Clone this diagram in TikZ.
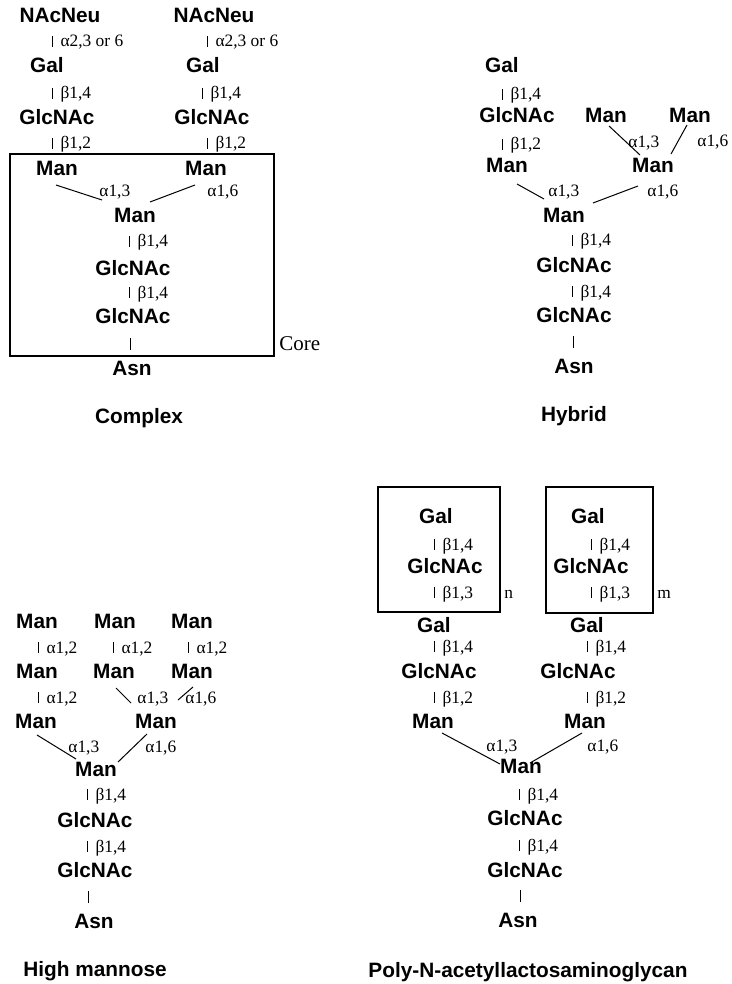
\documentclass[tikz,border=0pt]{standalone}
\usepackage{fontspec}
\setmainfont{Liberation Serif}
\newfontfamily\sugarfont{Liberation Sans}
\usetikzlibrary{fit}
\tikzset{
  sugar/.style={font=\sugarfont\bfseries\fontsize{10.4}{12}\selectfont, inner sep=0pt, anchor=base},
  link/.style={font=\fontsize{8.7}{10}\selectfont, inner sep=0pt, anchor=base west},
  bond/.style={line width=0.5pt},
  frame/.style={draw, line width=0.6pt, inner sep=0pt},
}
% short vertical bond stroke set in front of a linkage label
\newcommand{\bondbar}{\rule{0.45pt}{5.4pt}\hspace{3.6pt}}
\newcommand{\stembar}{\rule{0.45pt}{6pt}}

\begin{document}
\begin{tikzpicture}[x=0.5pt,y=-0.5pt]
\useasboundingbox (0,0) rectangle (732,984);

% ---------------- Complex ----------------
\node[sugar] (c-neu1) at (60,23) {NAcNeu};
\node[sugar] (c-neu2) at (214,23) {NAcNeu};
\node[link]  (c-l1a) at (52,47)  {\bondbar α2,3 or 6};
\node[link]  (c-l1b) at (207,47) {\bondbar α2,3 or 6};
\node[sugar] (c-gal1) at (47,73)  {Gal};
\node[sugar] (c-gal2) at (203,73) {Gal};
\node[link]  (c-l2a) at (52,99)  {\bondbar β1,4};
\node[link]  (c-l2b) at (202,99) {\bondbar β1,4};
\node[sugar] (c-gn1) at (57,125)  {GlcNAc};
\node[sugar] (c-gn2) at (212,125) {GlcNAc};
\node[link]  (c-l3a) at (52,149)  {\bondbar β1,2};
\node[link]  (c-l3b) at (207,149) {\bondbar β1,2};
\node[frame, fit={(10,154) (274,356)}] (c-core) {};
\node[sugar] (c-man1) at (57,176)  {Man};
\node[sugar] (c-man2) at (206,176) {Man};
\coordinate (c-a1) at (56,185);  \coordinate (c-a2) at (102,200);
\coordinate (c-b1) at (195,185); \coordinate (c-b2) at (150,202);
\draw[bond] (c-a1) -- (c-a2);
\draw[bond] (c-b1) -- (c-b2);
\node[link]  (c-l4a) at (99,197)  {α1,3};
\node[link]  (c-l4b) at (207,197) {α1,6};
\node[sugar] (c-man3) at (135,223) {Man};
\node[link]  (c-l5) at (129,247) {\bondbar β1,4};
\node[sugar] (c-gn3) at (133,275) {GlcNAc};
\node[link]  (c-l6) at (129,298) {\bondbar β1,4};
\node[sugar] (c-gn4) at (133,323) {GlcNAc};
\node[link]  (c-l7) at (129,350) {\stembar};
\node[link, font=\fontsize{10.5}{12}\selectfont] (c-corelabel) at (279,350) {Core};
\node[sugar] (c-asn) at (132,375) {Asn};
\node[sugar] (c-title) at (139,423) {Complex};

% ---------------- Hybrid ----------------
\node[sugar] (h-gal) at (502,73) {Gal};
\node[link]  (h-l1) at (502,100) {\bondbar β1,4};
\node[sugar] (h-gn1) at (517,123) {GlcNAc};
\node[link]  (h-l2) at (502,150) {\bondbar β1,2};
\node[sugar] (h-man1) at (507,173) {Man};
\node[sugar] (h-man2) at (606,123) {Man};
\node[sugar] (h-man3) at (690,123) {Man};
\coordinate (h-a1) at (609,126); \coordinate (h-a2) at (640,155);
\coordinate (h-b1) at (687,125); \coordinate (h-b2) at (671,154);
\draw[bond] (h-a1) -- (h-a2);
\draw[bond] (h-b1) -- (h-b2);
\node[link]  (h-l3) at (628,148) {α1,3};
\node[link]  (h-l4) at (697,147) {α1,6};
\node[sugar] (h-man4) at (653,173) {Man};
\coordinate (h-c1) at (517,184); \coordinate (h-c2) at (544,199);
\coordinate (h-d1) at (638,186); \coordinate (h-d2) at (593,203);
\draw[bond] (h-c1) -- (h-c2);
\draw[bond] (h-d1) -- (h-d2);
\node[link]  (h-l5) at (548,197) {α1,3};
\node[link]  (h-l6) at (647,197) {α1,6};
\node[sugar] (h-man5) at (564,222) {Man};
\node[link]  (h-l7) at (572,246) {\bondbar β1,4};
\node[sugar] (h-gn2) at (574,272) {GlcNAc};
\node[link]  (h-l8) at (572,297) {\bondbar β1,4};
\node[sugar] (h-gn3) at (574,322) {GlcNAc};
\node[link]  (h-l9) at (572,348) {\stembar};
\node[sugar] (h-asn) at (574,373) {Asn};
\node[sugar] (h-title) at (574,421) {Hybrid};

% ---------------- High mannose ----------------
\node[sugar] (m-r1a) at (37,628)  {Man};
\node[sugar] (m-r1b) at (115,628) {Man};
\node[sugar] (m-r1c) at (192,628) {Man};
\node[link]  (m-l1a) at (38,653)  {\bondbar α1,2};
\node[link]  (m-l1b) at (113,653) {\bondbar α1,2};
\node[link]  (m-l1c) at (188,653) {\bondbar α1,2};
\node[sugar] (m-r2a) at (37,678)  {Man};
\node[sugar] (m-r2b) at (114,678) {Man};
\node[sugar] (m-r2c) at (192,678) {Man};
\node[link]  (m-l2a) at (38,703) {\bondbar α1,2};
\coordinate (m-a1) at (116,688); \coordinate (m-a2) at (131,703);
\coordinate (m-b1) at (193,687); \coordinate (m-b2) at (178,700);
\draw[bond] (m-a1) -- (m-a2);
\draw[bond] (m-b1) -- (m-b2);
\node[link]  (m-l2b) at (137,703) {α1,3};
\node[link]  (m-l2c) at (185,703) {α1,6};
\node[sugar] (m-r3a) at (36,728)  {Man};
\node[sugar] (m-r3b) at (156,728) {Man};
\coordinate (m-c1) at (37,735);  \coordinate (m-c2) at (76,759);
\coordinate (m-d1) at (147,734); \coordinate (m-d2) at (118,762);
\draw[bond] (m-c1) -- (m-c2);
\draw[bond] (m-d1) -- (m-d2);
\node[link]  (m-l3a) at (68,752)  {α1,3};
\node[link]  (m-l3b) at (145,752) {α1,6};
\node[sugar] (m-man) at (96,776) {Man};
\node[link]  (m-l4) at (87,800) {\bondbar β1,4};
\node[sugar] (m-gn1) at (95,827) {GlcNAc};
\node[link]  (m-l5) at (87,852) {\bondbar β1,4};
\node[sugar] (m-gn2) at (95,877) {GlcNAc};
\node[link]  (m-l6) at (87,903) {\stembar};
\node[sugar] (m-asn) at (94,928) {Asn};
\node[sugar] (m-title) at (95,976) {High mannose};

% ---------------- Poly-N-acetyllactosaminoglycan ----------------
\node[frame, fit={(378,487) (500,612)}] (p-boxn) {};
\node[frame, fit={(546,487) (653,613)}] (p-boxm) {};
\node[sugar] (p-gal1) at (436,523) {Gal};
\node[link]  (p-l1a) at (434,550) {\bondbar β1,4};
\node[sugar] (p-gn1) at (445,573) {GlcNAc};
\node[link]  (p-l2a) at (434,598) {\bondbar β1,3};
\node[link]  (p-n) at (504,598) {n};
\node[sugar] (p-gal2) at (588,523) {Gal};
\node[link]  (p-l1b) at (591,550) {\bondbar β1,4};
\node[sugar] (p-gn2) at (591,573) {GlcNAc};
\node[link]  (p-l2b) at (591,598) {\bondbar β1,3};
\node[link]  (p-m) at (657,598) {m};
\node[sugar] (p-gal3) at (434,632) {Gal};
\node[link]  (p-l3a) at (434,652) {\bondbar β1,4};
\node[sugar] (p-gn3) at (439,678) {GlcNAc};
\node[link]  (p-l4a) at (434,703) {\bondbar β1,2};
\node[sugar] (p-man1) at (433,728) {Man};
\node[sugar] (p-gal4) at (587,632) {Gal};
\node[link]  (p-l3b) at (587,652) {\bondbar β1,4};
\node[sugar] (p-gn4) at (578,678) {GlcNAc};
\node[link]  (p-l4b) at (587,703) {\bondbar β1,2};
\node[sugar] (p-man2) at (585,728) {Man};
\coordinate (p-a1) at (442,733); \coordinate (p-a2) at (500,764);
\coordinate (p-b1) at (582,733); \coordinate (p-b2) at (530,763);
\draw[bond] (p-a1) -- (p-a2);
\draw[bond] (p-b1) -- (p-b2);
\node[link]  (p-l5a) at (486,751) {α1,3};
\node[link]  (p-l5b) at (587,751) {α1,6};
\node[sugar] (p-man3) at (521,773) {Man};
\node[link]  (p-l6) at (519,800) {\bondbar β1,4};
\node[sugar] (p-gn5) at (525,825) {GlcNAc};
\node[link]  (p-l7) at (519,851) {\bondbar β1,4};
\node[sugar] (p-gn6) at (525,877) {GlcNAc};
\node[link]  (p-l8) at (519,902) {\stembar};
\node[sugar] (p-asn) at (518,927) {Asn};
\node[sugar] (p-title) at (528,977) {Poly-N-acetyllactosaminoglycan};
\end{tikzpicture}
\end{document}
